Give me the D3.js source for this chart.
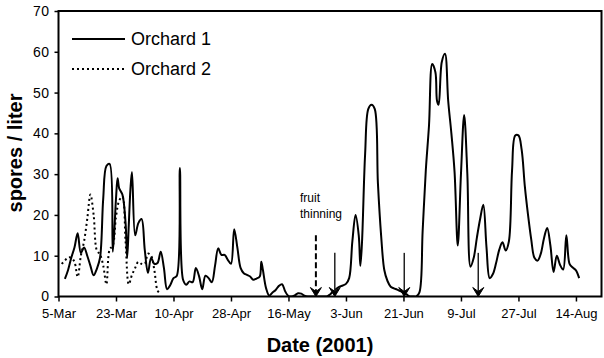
<!DOCTYPE html>
<html><head><meta charset="utf-8">
<script src="https://cdn.jsdelivr.net/npm/d3@7"></script>
<style>body{margin:0;background:#fff}svg{display:block;font-family:Arial,"Liberation Sans",sans-serif}</style>
</head><body><svg id="c" width="604" height="358"></svg>
<script>
// ---- data ----
const o1Dates = ["03-07","03-08","03-09","03-10","03-11","03-12","03-13","03-14","03-15","03-16","03-17","03-18","03-19","03-20","03-21","03-22","03-23","03-23 12","03-24","03-25","03-26","03-26 12","03-27","03-27 12","03-28","03-29","03-30","03-31",
"04-01","04-02","04-03","04-04","04-05","04-06","04-07","04-08","04-09","04-10","04-11","04-12","04-13","04-14","04-15","04-16","04-17","04-18","04-19","04-20","04-21","04-22","04-23","04-24","04-25","04-26","04-27","04-28","04-29","04-30",
"05-01","05-02","05-03","05-04","05-05","05-06","05-07","05-07 12","05-08","05-09","05-10","05-11","05-12","05-13","05-14","05-15","05-16","05-17","05-18","05-19","05-20","05-21","05-22","05-23","05-24","05-25","05-26","05-27","05-28","05-29","05-30","05-31",
"06-01","06-02","06-03","06-04","06-05","06-06","06-07","06-07 12","06-08","06-09","06-10","06-11","06-12","06-13","06-14","06-15","06-16","06-17","06-18","06-19","06-20","06-21","06-22","06-23","06-24","06-25","06-26","06-27","06-28","06-29","06-30",
"07-01","07-01 12","07-02","07-03","07-04","07-05","07-06","07-07","07-08","07-09","07-10","07-11","07-12","07-13","07-14","07-15","07-16","07-17","07-18","07-19","07-20","07-21","07-22","07-23","07-24","07-25","07-26","07-27","07-28","07-29","07-30","07-31",
"08-01","08-02","08-03","08-04","08-05","08-06","08-07","08-08","08-09","08-10","08-11","08-12","08-13","08-14","08-15"];
const o1Values = [4.3,6.5,9.5,12,15.5,10.7,12,10,7.5,5.2,6.8,9.5,24,32,32.5,11,24,29,26.5,25,18,9.5,17.5,26,30.5,15,18,19,
11.5,5.8,9.5,8,8.2,11,7,1.8,2.8,4.5,5,31.5,4.1,2.9,3.7,3.5,7,5,1.8,5.1,4.5,3.5,7.5,11.8,10.2,10.2,9,8,16.5,12,
7,5.7,5.3,4.9,4.1,4.4,4.9,8.5,6.5,2,0.2,1,1.6,2.6,3,1.2,0.1,0,0.3,0.8,0.7,0.2,0,0,0,0,0,0,0,0.5,1.2,1.9,
2.4,2.7,3.1,4.5,13.5,20,15,7.5,13,35,46,47,46,27.8,15,6.5,3.8,2.4,2,1.7,1.3,1,0.5,0,0,0,1,16,31,42,57,
55,48,47,57.5,59.5,48,40,30.5,12.5,30,44.5,30,7.3,9.5,14.5,19,22.5,12,4.5,5.5,8.2,11.5,13.3,11.3,13.5,31,39.5,39.5,36,27,20,14,
9.5,8.8,10.5,14.3,16.8,12.5,6,10,7.8,6.6,15,8,7.1,6.4,4.5];

const o2Dates = ["03-06","03-07","03-08","03-09","03-10","03-11","03-12","03-13","03-14","03-15","03-16","03-17","03-18","03-19","03-20","03-21","03-22","03-23","03-24","03-25","03-26","03-27","03-28","03-29","03-30","03-31","04-01","04-02","04-03","04-04","04-05","04-06"];
const o2Values = [8,8.8,9.6,9.5,8.5,4.8,10,13.5,19,25,20,11.3,10.3,7.6,3,11.5,12.5,19.5,23.5,24.5,13.5,3,5.3,7,8.5,8,8,10.5,10,6.5,1.5,0.5];

const seriesNames = ["Orchard 1","Orchard 2"];
const xTickDates = ["03-05","03-23","04-10","04-28","05-16","06-03","06-21","07-09","07-27","08-14"];
const xTickLabels = ["5-Mar","23-Mar","10-Apr","28-Apr","16-May","3-Jun","21-Jun","9-Jul","27-Jul","14-Aug"];
const yTicks = [0,10,20,30,40,50,60,70];
const sprayDates = ["05-30 12","06-21 06","07-14 10"];
const sprayTop = 10.7;
const thinningDate = "05-24 14";
const thinningTop = 15;
const xDomain = ["03-05","08-22"];

// ---- helpers ----
const parse = s => { const [md,h] = s.split(" "); const [m,d] = md.split("-").map(Number); return new Date(Date.UTC(2001, m-1, d, h ? +h : 0)); };

const svg = d3.select("#c");
const L = 58.5, R = 601.5, T = 11, B = 296.5;
const x = d3.scaleUtc().domain(xDomain.map(parse)).range([L, R]);
const y = d3.scaleLinear().domain([0, 70]).range([B, T]);

svg.append("defs").append("clipPath").attr("id","clip")
  .append("rect").attr("x",L).attr("y",T).attr("width",R-L).attr("height",B-T);

// axes
const yAxis = svg.append("g").attr("transform",`translate(${L},0)`)
  .call(d3.axisLeft(y).tickValues(yTicks).tickSize(4).tickPadding(5));
yAxis.select(".domain").remove();
yAxis.selectAll("line").attr("stroke","#000").attr("stroke-width",1.5);
yAxis.selectAll("text").attr("font-size",14).attr("fill","#000").attr("font-family","Arial, 'Liberation Sans', sans-serif").attr("letter-spacing","0.5px");

const xAxis = svg.append("g").attr("transform",`translate(0,${B})`)
  .call(d3.axisBottom(x).tickValues(xTickDates.map(parse)).tickFormat((d,i)=>xTickLabels[i]).tickSize(5).tickPadding(7));
xAxis.select(".domain").remove();
xAxis.selectAll("line").attr("stroke","#000").attr("stroke-width",1.5);
xAxis.selectAll("text").attr("font-size",13).attr("fill","#000").attr("font-family","Arial, 'Liberation Sans', sans-serif");

// frame
svg.append("rect").attr("x",L).attr("y",T).attr("width",R-L).attr("height",B-T)
  .attr("fill","none").attr("stroke","#000").attr("stroke-width",2);

// lines
const line = d3.line().x(d=>x(d[0])).y(d=>y(d[1])).curve(d3.curveCatmullRom.alpha(0.5));
const g = svg.append("g").attr("clip-path","url(#clip)");
g.append("path").datum(d3.zip(o2Dates.map(parse), o2Values))
  .attr("d", line).attr("fill","none").attr("stroke","#000").attr("stroke-width",2).attr("stroke-dasharray","2,3");
g.append("path").datum(d3.zip(o1Dates.map(parse), o1Values))
  .attr("d", line).attr("fill","none").attr("stroke","#000").attr("stroke-width",2).attr("stroke-linejoin","round");

// arrows
function arrow(dateStr, top, dashed){
  const ax = x(parse(dateStr)), y0 = y(0), yt = y(top);
  svg.append("line").attr("x1",ax).attr("x2",ax).attr("y1",yt).attr("y2",y0-4)
    .attr("stroke", dashed ? "#000" : "#222").attr("stroke-width", dashed ? 2 : 1.5)
    .attr("stroke-dasharray", dashed ? "6,3" : null);
  svg.append("path").attr("d",`M${ax},${y0} L${ax-5.5},${y0-9} L${ax},${y0-5} L${ax+5.5},${y0-9} Z`)
    .attr("fill","#000").attr("stroke","#000").attr("stroke-width",1).attr("stroke-linejoin","round");
}
sprayDates.forEach(d => arrow(d, sprayTop, false));
arrow(thinningDate, thinningTop, true);

// annotation
const ann = svg.append("text").attr("x",300).attr("font-size",12).attr("fill","#000");
ann.append("tspan").attr("x",300).attr("y",201.5).text("fruit");
ann.append("tspan").attr("x",300).attr("y",218).text("thinning");

// legend
const leg = svg.append("g");
seriesNames.forEach((n,i) => {
  const ly = 39 + i*30;
  leg.append("line").attr("x1",72).attr("x2",125).attr("y1",ly).attr("y2",ly)
    .attr("stroke","#000").attr("stroke-width",2).attr("stroke-dasharray", i ? "2,3" : null);
  leg.append("text").attr("x",131).attr("y",ly).attr("dy","0.35em").attr("font-size",18).attr("fill","#000").text(n);
});

// titles
svg.append("text").attr("x",320).attr("y",352).attr("text-anchor","middle")
  .attr("font-size",20).attr("font-weight","bold").attr("fill","#000").text("Date (2001)");
svg.append("text").attr("transform","translate(22,153) rotate(-90)").attr("text-anchor","middle")
  .attr("font-size",20).attr("font-weight","bold").attr("fill","#000").text("spores / liter");
</script></body></html>
